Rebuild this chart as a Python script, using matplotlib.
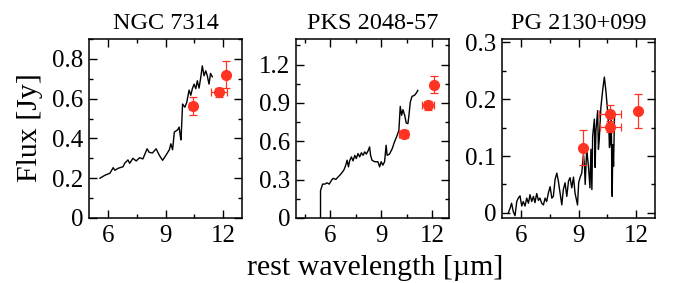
import numpy as np
import matplotlib
matplotlib.use("Agg")
import matplotlib.pyplot as plt
from matplotlib.ticker import MultipleLocator

plt.rcParams['font.family'] = ['Liberation Serif', 'DejaVu Serif']

# ---- NGC 7314 ----
wl_ngc = [5.57, 5.83, 6.09, 6.26, 6.35, 6.52, 6.78, 6.86, 7.03, 7.12, 7.29, 7.46, 7.64, 7.81,
          8.03, 8.14, 8.31, 8.50, 8.67, 8.84, 9.01, 9.19, 9.27, 9.36, 9.45, 9.62, 9.70, 9.79,
          9.80, 9.88, 10.00, 10.10, 10.22, 10.31, 10.39, 10.48, 10.57, 10.65, 10.74, 10.83,
          10.91, 11.00, 11.09, 11.17, 11.26, 11.34, 11.43]
fl_ngc = [0.200, 0.215, 0.225, 0.253, 0.240, 0.250, 0.258, 0.275, 0.292, 0.275, 0.300, 0.287,
          0.303, 0.297, 0.348, 0.330, 0.327, 0.348, 0.315, 0.290, 0.315, 0.343, 0.373, 0.343,
          0.432, 0.443, 0.457, 0.393, 0.393, 0.573, 0.557, 0.582, 0.643, 0.617, 0.650, 0.673,
          0.650, 0.690, 0.653, 0.707, 0.765, 0.715, 0.740, 0.715, 0.673, 0.727, 0.710]
phot_wl_ngc = [10.40, 11.78, 12.16]
phot_fl_ngc = [0.565, 0.632, 0.720]
phot_xerr_ngc = [0.20, 0.40, 0.0]
phot_yerr_ngc = [0.045, 0.022, 0.067]

# ---- PKS 2048-57 ----
wl_pks = [5.44, 5.44, 5.56, 5.69, 5.83, 5.95, 6.09, 6.18, 6.34, 6.48, 6.61, 6.73, 6.83, 6.92,
          7.00, 7.08, 7.15, 7.25, 7.35, 7.45, 7.54, 7.64, 7.74, 7.84, 7.94, 8.03, 8.13, 8.23,
          8.32, 8.38, 8.46, 8.62, 8.81, 8.91, 9.00, 9.10, 9.20, 9.29, 9.35, 9.49, 9.65, 9.78,
          9.94, 10.04, 10.12, 10.20, 10.28, 10.38, 10.47, 10.57, 10.63, 10.71, 10.81, 10.96,
          11.06, 11.15]
fl_pks = [0.0, 0.213, 0.265, 0.265, 0.275, 0.265, 0.296, 0.310, 0.302, 0.322, 0.340, 0.360,
          0.380, 0.413, 0.452, 0.400, 0.447, 0.478, 0.447, 0.490, 0.465, 0.504, 0.478, 0.510,
          0.490, 0.517, 0.500, 0.525, 0.556, 0.490, 0.452, 0.440, 0.440, 0.400, 0.440, 0.413,
          0.440, 0.569, 0.490, 0.500, 0.543, 0.595, 0.647, 0.686, 0.873, 0.803, 0.847, 0.803,
          0.743, 0.738, 0.803, 0.907, 0.951, 0.960, 0.977, 0.998]
phot_wl_pks = [10.33, 11.73, 12.12]
phot_fl_pks = [0.655, 0.881, 1.042]
phot_xerr_pks = [0.27, 0.35, 0.12]
phot_yerr_pks = [0.03, 0.035, 0.065]

# ---- PG 2130+099 ----
wl_pg = [5.33, 5.42, 5.50, 5.59, 5.68, 5.77, 5.85, 5.94, 6.03, 6.11, 6.20, 6.29, 6.38, 6.46,
         6.55, 6.64, 6.72, 6.81, 6.90, 6.98, 7.07, 7.16, 7.25, 7.33, 7.42, 7.51, 7.60, 7.68,
         7.77, 7.86, 7.94, 8.03, 8.12, 8.20, 8.29, 8.38, 8.47, 8.55, 8.64, 8.73, 8.81, 8.94,
         9.00, 9.07, 9.16, 9.25, 9.30, 9.34, 9.42, 9.51, 9.59, 9.64, 9.69, 9.73, 9.82, 9.86,
         9.90, 9.99, 10.03, 10.07, 10.16, 10.25, 10.34, 10.42, 10.50, 10.57, 10.61, 10.64,
         10.67, 10.70, 10.73, 10.75, 10.78, 10.82, 10.87]
fl_pg = [0.000, 0.008, 0.017, 0.002, -0.005, 0.020, 0.026, 0.030, 0.012, 0.020, 0.012, 0.026,
         0.017, 0.032, 0.020, 0.029, 0.018, 0.034, 0.022, 0.026, 0.017, 0.014, 0.026, 0.020,
         0.035, 0.046, 0.026, 0.029, 0.059, 0.070, 0.056, 0.035, 0.014, 0.041, 0.053, 0.029,
         0.056, 0.062, 0.044, 0.063, 0.035, 0.014, 0.053, 0.062, 0.070, 0.103, 0.085, 0.050,
         0.112, 0.082, 0.044, 0.112, 0.041, 0.135, 0.165, 0.080, 0.144, 0.180, 0.112, 0.127,
         0.186, 0.215, 0.239, 0.215, 0.183, 0.150, 0.115, 0.160, 0.120, 0.171, 0.070, 0.029,
         0.120, 0.082, 0.171]
phot_wl_pg = [9.25, 10.65, 10.65, 12.10]
phot_fl_pg = [0.115, 0.174, 0.152, 0.180]
phot_xerr_pg = [0.0, 0.58, 0.55, 0.0]
phot_yerr_pg = [0.030, 0.015, 0.010, 0.030]

titles = ["NGC 7314", "PKS 2048-57", "PG 2130+099"]
xlims = [(5, 13), (4, 13), (5, 13)]
ylims = [(0, 0.9), (0, 1.4), (-0.009, 0.306)]
ymajor = [0.2, 0.3, 0.1]

red = '#ff3322'
fig = plt.figure(figsize=(6.77, 2.83), dpi=100)
lefts = [0.1315, 0.4372, 0.7415]
spectra = [(wl_ngc, fl_ngc), (wl_pks, fl_pks), (wl_pg, fl_pg)]
phots = [(phot_wl_ngc, phot_fl_ngc, phot_xerr_ngc, phot_yerr_ngc),
         (phot_wl_pks, phot_fl_pks, phot_xerr_pks, phot_yerr_pks),
         (phot_wl_pg, phot_fl_pg, phot_xerr_pg, phot_yerr_pg)]

for i in range(3):
    ax = fig.add_axes([lefts[i], 0.2297, 0.2265, 0.6325])
    wl, fl = spectra[i]
    ax.plot(wl, fl, color='black', lw=1.0)
    pw, pf, px, py = phots[i]
    ax.errorbar(pw, pf, xerr=px, yerr=py, fmt='o', color=red, ms=7,
                elinewidth=0.9, capsize=3, capthick=0.9, zorder=3)
    ax.set_xlim(*xlims[i])
    ax.set_ylim(*ylims[i])
    ax.xaxis.set_major_locator(MultipleLocator(3))
    ax.xaxis.set_minor_locator(MultipleLocator(1.5))
    ticks = [t for t in np.arange(0, ylims[i][1] + 1e-6, ymajor[i])]
    ax.set_yticks(ticks)
    ax.set_yticklabels(["0" if t < 1e-9 else "%.1f" % t for t in ticks])
    ax.yaxis.set_minor_locator(MultipleLocator(ymajor[i] / 2))
    ax.tick_params(which='both', direction='in', top=True, right=True, labelsize=18, width=1.0)
    ax.tick_params(which='major', length=5.5)
    ax.tick_params(axis='y', which='major', pad=4)
    ax.tick_params(axis='x', which='major', pad=5)
    ax.tick_params(which='minor', length=3)
    for s in ax.spines.values():
        s.set_linewidth(1.1)
    ax.set_title(titles[i], fontsize=17.5, pad=7.5)

fig.text(0.044, 0.548, "Flux [Jy]", rotation=90, ha='center', va='center', fontsize=21.5)
fig.text(0.554, 0.053, "rest wavelength [\u00b5m]", ha='center', va='center', fontsize=21.5)

fig.savefig("out.png", dpi=100)
